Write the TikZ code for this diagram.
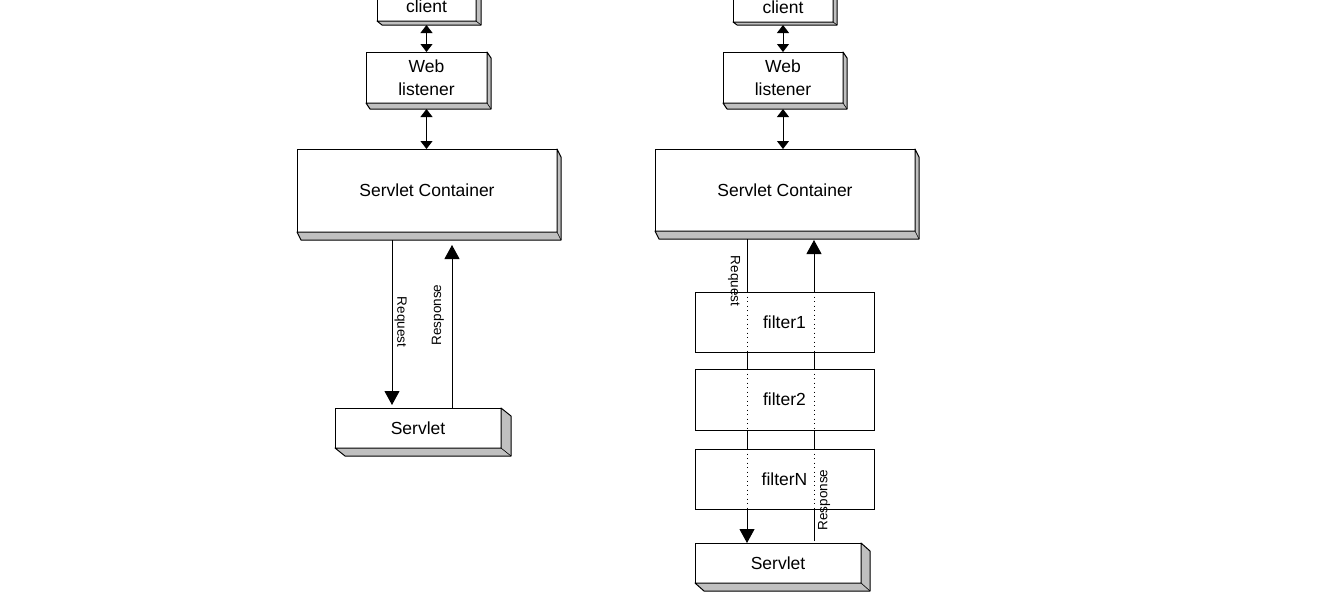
\documentclass[tikz,border=0pt]{standalone}
\usepackage{fontspec}
\setmainfont{Liberation Sans}
\usetikzlibrary{arrows.meta,calc}
\definecolor{bevel}{RGB}{192,192,192}
\begin{document}
\begin{tikzpicture}[x=1pt,y=-1pt,
  box/.style={draw,fill=white,line width=1pt,inner sep=0pt,outer sep=0pt,align=center,
              font=\fontsize{17.5}{23}\selectfont},
  lbl/.style={inner sep=0pt,font=\fontsize{13.5}{16}\selectfont},
  dbl/.style={line width=1pt,{Triangle[width=12pt,length=8pt]}-{Triangle[width=12pt,length=8pt]}},
  big/.style={line width=1pt,-{Triangle[width=15pt,length=14pt]}},
  thru/.style={line width=1pt,dash pattern=on 1pt off 3.5pt}]
\clip (0,0) rectangle (1342,600);
\fill[white] (0,0) rectangle (1342,600);

% plain servlet container (left)
\node[box,minimum width=99pt,minimum height=29pt]  (cl1) at (426.5,6.5)  {client};
\node[box,minimum width=121pt,minimum height=51pt] (wl1) at (426.5,77.5) {Web\\listener};
\node[box,minimum width=260pt,minimum height=83pt] (sc1) at (427,190.5)  {Servlet Container};
\node[box,minimum width=166pt,minimum height=40pt] (sv1) at (418,428)    {Servlet};

% container with a filter chain (right)
\node[box,minimum width=100pt,minimum height=30pt] (cl2) at (783,7)      {client};
\node[box,minimum width=120pt,minimum height=51pt] (wl2) at (783,77.5)   {Web\\listener};
\node[box,minimum width=260pt,minimum height=82pt] (sc2) at (785,190)    {Servlet Container};
\node[box,minimum width=166pt,minimum height=40pt] (sv2) at (778,563)    {Servlet};

% bevelled bottom/right edges
\foreach \n/\dx/\dy in {cl1/5/4,wl1/4/6,sc1/4/8,sv1/10/8,cl2/4/3,wl2/4/6,sc2/4/8,sv2/9/8}{
  \filldraw[fill=bevel,line width=1pt,line join=round]
    (\n.south west) -- ++(\dx,\dy) -- ($(\n.south east)+(\dx,\dy)$)
    -- ($(\n.north east)+(\dx,\dy)$) -- (\n.north east) -- (\n.south east) -- cycle;
  \draw[line width=0.6pt] (\n.south east) -- ++(\dx,\dy);
}

% two-way links
\draw[dbl] ([yshift=-4pt]cl1.south) -- (wl1.north);
\draw[dbl] ([yshift=-6pt]wl1.south) -- (wl1.south |- sc1.north);
\draw[dbl] ([yshift=-3pt]cl2.south) -- (wl2.north);
\draw[dbl] ([yshift=-6pt]wl2.south) -- (wl2.south |- sc2.north);

% request / response (left)
\coordinate (rq1a) at ($(sc1.south)+(-35,8)$);
\coordinate (rs1a) at ($(sc1.south)+(25,8)$);
\draw[big,shorten >=3pt] (rq1a) -- (rq1a |- sv1.north);
\draw[big,shorten >=5pt] (rs1a |- sv1.north) -- (rs1a);

% request / response (right)
\coordinate (rq2a) at ($(sc2.south)+(-38,8)$);
\coordinate (rs2a) at ($(sc2.south)+(29,8)$);
\draw[big] (rq2a) -- (rq2a |- sv2.north);
\draw[big,shorten <=2pt,shorten >=1pt] (rs2a |- sv2.north) -- (rs2a);

% filter chain
\node[box,minimum width=179pt,minimum height=60pt] (f1) at (784.5,322)   {filter1};
\node[box,minimum width=179pt,minimum height=61pt] (f2) at (784.5,399.5) {filter2};
\node[box,minimum width=179pt,minimum height=60pt] (fN) at (784.5,479)   {filterN};
\foreach \f in {f1,f2,fN}{
  \draw[thru] (\f.north -| rq2a) -- (\f.south -| rq2a);
  \draw[thru] (\f.north -| rs2a) -- (\f.south -| rs2a);
}

% flow labels
\node[lbl,rotate=-90] (rq1l) at (400.5,322) {Request};
\node[lbl,rotate=90]  (rs1l) at (438,315)   {Response};
\node[lbl,rotate=-90] (rq2l) at (734,281)   {Request};
\node[lbl,rotate=90]  (rs2l) at (824,500)   {Response};
\end{tikzpicture}
\end{document}
